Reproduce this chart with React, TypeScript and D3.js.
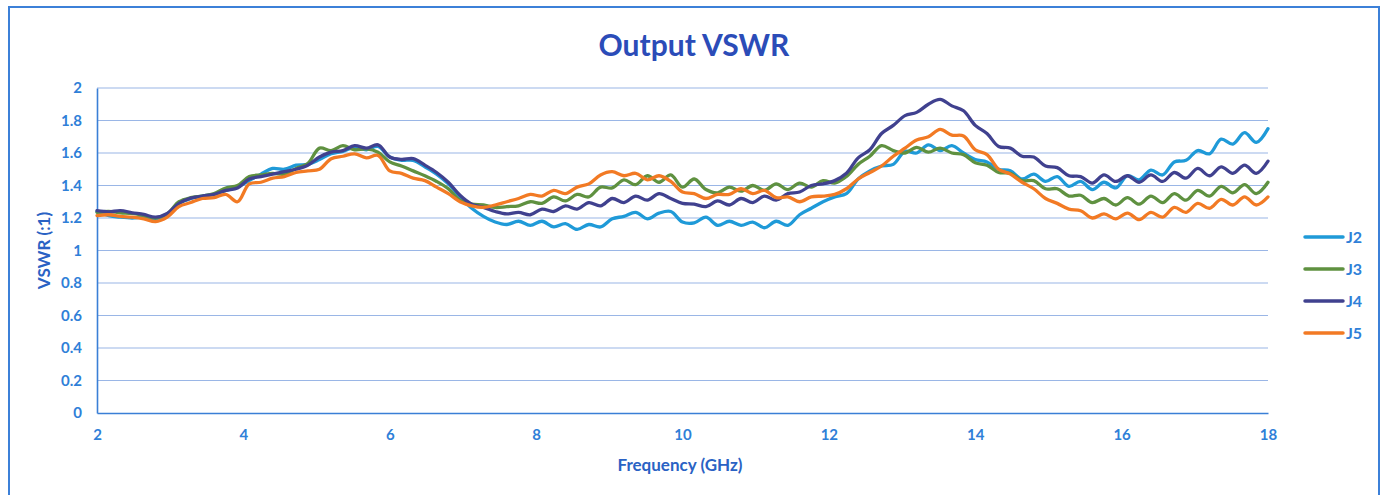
import React, { useEffect, useRef } from 'react';
import * as d3 from 'd3';

// frequency grid (GHz)
const freqs = [
  2.0, 2.16, 2.32, 2.48, 2.64, 2.8, 2.96, 3.12, 3.28, 3.44, 3.6, 3.76, 3.92, 4.08, 4.24, 4.4, 4.56, 4.72, 4.88, 5.04,
  5.2, 5.36, 5.52, 5.68, 5.84, 6.0, 6.16, 6.32, 6.48, 6.64, 6.8, 6.96, 7.12, 7.28, 7.44, 7.6, 7.76, 7.92, 8.08, 8.24,
  8.4, 8.56, 8.72, 8.88, 9.04, 9.2, 9.36, 9.52, 9.68, 9.84, 10.0, 10.16, 10.32, 10.48, 10.64, 10.8, 10.96, 11.12, 11.28, 11.44,
  11.6, 11.76, 11.92, 12.08, 12.24, 12.4, 12.56, 12.72, 12.88, 13.04, 13.2, 13.36, 13.52, 13.68, 13.84, 14.0, 14.16, 14.32, 14.48, 14.64,
  14.8, 14.96, 15.12, 15.28, 15.44, 15.6, 15.76, 15.92, 16.08, 16.24, 16.4, 16.56, 16.72, 16.88, 17.04, 17.2, 17.36, 17.52, 17.68, 17.84,
  18.0,
];

const j2 = [
  1.24, 1.215, 1.205, 1.2, 1.205, 1.195, 1.22, 1.29, 1.32, 1.335, 1.345, 1.37, 1.39, 1.43, 1.47, 1.505, 1.5, 1.525, 1.53, 1.56,
  1.595, 1.61, 1.635, 1.62, 1.64, 1.575, 1.555, 1.555, 1.515, 1.47, 1.41, 1.33, 1.26, 1.21, 1.175, 1.16, 1.18, 1.155, 1.18, 1.145,
  1.165, 1.13, 1.16, 1.145, 1.195, 1.21, 1.235, 1.195, 1.23, 1.24, 1.175, 1.17, 1.205, 1.155, 1.18, 1.155, 1.175, 1.14, 1.18, 1.155,
  1.22, 1.26, 1.3, 1.33, 1.35, 1.44, 1.49, 1.52, 1.53, 1.61, 1.6, 1.65, 1.615, 1.645, 1.6, 1.56, 1.545, 1.5, 1.49, 1.44,
  1.47, 1.425, 1.455, 1.395, 1.425, 1.375, 1.42, 1.385, 1.46, 1.435, 1.495, 1.465, 1.545, 1.555, 1.615, 1.595, 1.685, 1.655, 1.725, 1.665,
  1.75,
];

const j3 = [
  1.235, 1.24, 1.232, 1.228, 1.215, 1.2, 1.225, 1.3, 1.325, 1.335, 1.35, 1.385, 1.4, 1.455, 1.465, 1.475, 1.47, 1.505, 1.535, 1.63,
  1.615, 1.645, 1.62, 1.625, 1.605, 1.545, 1.52, 1.49, 1.46, 1.425, 1.38, 1.31, 1.285, 1.28, 1.265, 1.27, 1.275, 1.3, 1.29, 1.33,
  1.305, 1.345, 1.33, 1.39, 1.385, 1.435, 1.405, 1.46, 1.42, 1.465, 1.39, 1.44, 1.375, 1.355, 1.39, 1.365, 1.4, 1.37, 1.41, 1.375,
  1.415, 1.39, 1.43, 1.415, 1.455, 1.53, 1.58, 1.645, 1.615, 1.6, 1.635, 1.605, 1.63, 1.6, 1.59, 1.54, 1.525, 1.48, 1.475, 1.43,
  1.43, 1.38, 1.38, 1.335, 1.34, 1.295, 1.32, 1.28, 1.325, 1.285, 1.335, 1.295, 1.35, 1.31, 1.37, 1.335, 1.395, 1.355, 1.405, 1.35,
  1.42,
];

const j4 = [
  1.245, 1.238, 1.245, 1.232, 1.222, 1.205, 1.228, 1.29, 1.322, 1.335, 1.345, 1.37, 1.385, 1.44, 1.455, 1.47, 1.485, 1.5, 1.525, 1.575,
  1.605, 1.615, 1.645, 1.63, 1.65, 1.575, 1.56, 1.565, 1.525, 1.48, 1.42, 1.34, 1.285, 1.265, 1.24, 1.225, 1.235, 1.22, 1.255, 1.24,
  1.275, 1.255, 1.295, 1.275, 1.32, 1.295, 1.335, 1.31, 1.35, 1.32, 1.29, 1.285, 1.27, 1.305, 1.28, 1.32, 1.295, 1.335, 1.31, 1.35,
  1.36, 1.4, 1.41, 1.43, 1.475, 1.57, 1.62, 1.72, 1.77, 1.83, 1.85, 1.9, 1.93, 1.89, 1.86, 1.77, 1.72, 1.64, 1.63, 1.58,
  1.575, 1.52, 1.51, 1.46, 1.455, 1.415, 1.465, 1.425, 1.46, 1.42, 1.465, 1.425, 1.48, 1.445, 1.505, 1.46, 1.515, 1.475, 1.525, 1.475,
  1.55,
];

const j5 = [
  1.215, 1.22, 1.21, 1.205, 1.195, 1.178, 1.205, 1.27, 1.295, 1.32, 1.325, 1.345, 1.3, 1.41, 1.42, 1.445, 1.455, 1.48, 1.49, 1.5,
  1.565, 1.58, 1.595, 1.57, 1.585, 1.49, 1.475, 1.445, 1.43, 1.39, 1.35, 1.3, 1.275, 1.265, 1.28, 1.3, 1.32, 1.345, 1.335, 1.37,
  1.35, 1.39, 1.41, 1.465, 1.485, 1.46, 1.475, 1.435, 1.46, 1.425, 1.36, 1.35, 1.32, 1.345, 1.345, 1.38, 1.35, 1.37, 1.325, 1.33,
  1.3, 1.33, 1.335, 1.345, 1.38, 1.44, 1.48, 1.52, 1.58, 1.63, 1.68, 1.7, 1.745, 1.71, 1.705, 1.62, 1.59, 1.5, 1.47, 1.42,
  1.38, 1.32, 1.29, 1.255, 1.245, 1.2, 1.225, 1.195, 1.23, 1.19, 1.235, 1.205, 1.265, 1.235, 1.29, 1.26, 1.315, 1.28, 1.33, 1.28,
  1.33,
];

const seriesNames = ['J2', 'J3', 'J4', 'J5'];
const seriesColors = ['#1f9ad8', '#5f9140', '#40418f', '#f27a24'];
const xTicks = [2, 4, 6, 8, 10, 12, 14, 16, 18];
const yTicks = [0, 0.2, 0.4, 0.6, 0.8, 1, 1.2, 1.4, 1.6, 1.8, 2];

const W = 1382;
const H = 495;
const plot = { left: 97, right: 1268, top: 88, bottom: 413 };
const font = 'Lato, "Open Sans", sans-serif';
const labelBlue = '#2f80d8';
const titleBlue = '#2b4cb8';

export default function App() {
  const svgRef = useRef<SVGSVGElement>(null);

  useEffect(() => {
    const svg = d3.select(svgRef.current);
    svg.selectAll('*').remove();

    const x = d3.scaleLinear().domain([2, 18]).range([plot.left, plot.right]);
    const y = d3.scaleLinear().domain([0, 2]).range([plot.bottom, plot.top]);

    // outer frame
    svg
      .append('rect')
      .attr('x', 9)
      .attr('y', 7)
      .attr('width', 1370)
      .attr('height', 500)
      .attr('fill', 'white')
      .attr('stroke', '#3c80d8')
      .attr('stroke-width', 2);

    // gridlines
    svg
      .append('g')
      .selectAll('line')
      .data(yTicks.filter((d) => d > 0))
      .enter()
      .append('line')
      .attr('x1', plot.left)
      .attr('x2', plot.right)
      .attr('y1', (d) => y(d))
      .attr('y2', (d) => y(d))
      .attr('stroke', '#9ab6e6')
      .attr('stroke-width', 1.2);

    // axes
    const xAxis = d3.axisBottom(x).tickValues(xTicks).tickSize(0).tickPadding(16).tickFormat(d3.format('d'));
    const yAxis = d3
      .axisLeft(y)
      .tickValues(yTicks)
      .tickSize(0)
      .tickPadding(15)
      .tickFormat((d) => String(+d));

    const gx = svg.append('g').attr('transform', `translate(0,${plot.bottom})`).call(xAxis);
    const gy = svg.append('g').attr('transform', `translate(${plot.left},0)`).call(yAxis);
    [gx, gy].forEach((g) => {
      g.select('.domain').attr('stroke', '#3a7fd6').attr('stroke-width', 1.6);
      g.selectAll('text')
        .attr('fill', labelBlue)
        .style('font-family', font)
        .style('font-size', '15px')
        .style('font-weight', 'bold');
    });

    // series
    const allSeries = [j2, j3, j4, j5];
    const line = d3
      .line<number>()
      .x((_, i) => x(freqs[i]))
      .y((d) => y(d))
      .curve(d3.curveCatmullRom.alpha(0.5));

    allSeries.forEach((s, k) => {
      svg
        .append('path')
        .datum(s)
        .attr('d', line)
        .attr('fill', 'none')
        .attr('stroke', seriesColors[k])
        .attr('stroke-width', 3.3)
        .attr('stroke-linejoin', 'round')
        .attr('stroke-linecap', 'round');
    });

    // title
    svg
      .append('text')
      .attr('x', 694)
      .attr('y', 56)
      .attr('text-anchor', 'middle')
      .attr('fill', titleBlue)
      .style('font-family', font)
      .style('font-size', '30px')
      .style('font-weight', 'bold')
      .text('Output VSWR');

    // axis titles
    svg
      .append('text')
      .attr('x', 680)
      .attr('y', 471)
      .attr('text-anchor', 'middle')
      .attr('fill', '#2a62c4')
      .style('font-family', font)
      .style('font-size', '17px')
      .style('font-weight', 'bold')
      .text('Frequency (GHz)');

    svg
      .append('text')
      .attr('transform', `translate(50,${(plot.top + plot.bottom) / 2}) rotate(-90)`)
      .attr('text-anchor', 'middle')
      .attr('fill', '#2a62c4')
      .style('font-family', font)
      .style('font-size', '17px')
      .style('font-weight', 'bold')
      .text('VSWR (:1)');

    // legend
    const legend = svg
      .append('g')
      .selectAll('g')
      .data(seriesNames)
      .enter()
      .append('g')
      .attr('transform', (_, i) => `translate(1305,${237 + i * 32})`);
    legend
      .append('line')
      .attr('x1', 0)
      .attr('x2', 38)
      .attr('stroke', (_, i) => seriesColors[i])
      .attr('stroke-width', 3.5)
      .attr('stroke-linecap', 'round');
    legend
      .append('text')
      .attr('x', 41)
      .attr('y', 6)
      .attr('fill', labelBlue)
      .style('font-family', font)
      .style('font-size', '16px')
      .style('font-weight', 'bold')
      .text((d) => d);
  }, []);

  return (
    <svg
      ref={svgRef}
      width={W}
      height={H}
      style={{ position: 'absolute', left: 0, top: 0, background: 'white' }}
    />
  );
}
